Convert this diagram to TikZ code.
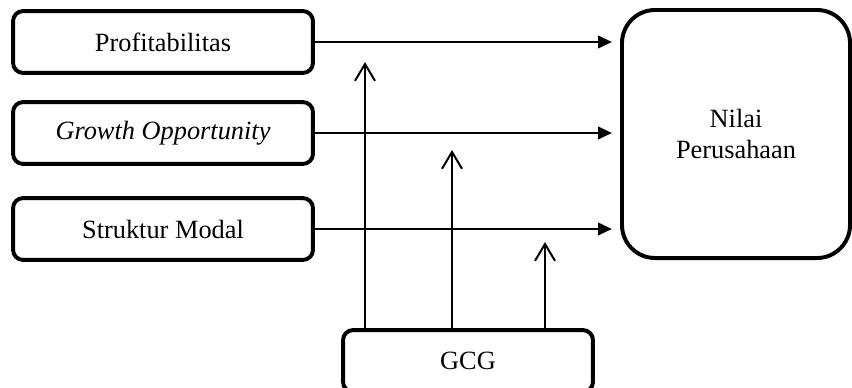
\documentclass[tikz,border=0pt]{standalone}
\usepackage{fontspec}
\setmainfont{Liberation Serif}
\usetikzlibrary{arrows.meta}

\begin{document}
\begin{tikzpicture}[x=0.016cm, y=-0.016cm]
	\tikzstyle {varbox} = [draw, line width = 1.8pt, rounded corners = 0.16cm, minimum width = 4.8cm, minimum height = 0.99cm, inner sep = 0pt, font = \fontsize{12}{13.8}\selectfont];
	\useasboundingbox (0, 0) rectangle (852, 387);
	\node[varbox] (prof) at (163, 42) {Profitabilitas};
	\node[varbox] (growth) at (163, 133) {\textit{Growth Opportunity}};
	\node[varbox] (struktur) at (163, 229) {Struktur Modal};
	\node[varbox, rounded corners = 0.53cm, minimum width = 3.65cm, minimum height = 3.97cm, align = center] (nilai) at (736, 134) {Nilai\\Perusahaan};
	\node[varbox, minimum width = 4cm] (gcg) at (468, 361) {GCG};
	\foreach \varname in {prof, growth, struktur} {
			\draw[line width = 0.9pt, -{Triangle[length = 0.22cm, width = 0.2cm]}, shorten > = 0.13cm] (\varname.east) -- (\varname.east -| nilai.west);
		}
	\foreach \tipname/\tipx/\tipy in {t1/365/62, t2/452/150, t3/545/242} {
			\coordinate (\tipname) at (\tipx, \tipy);
			\draw[line width = 0.9pt, -{Straight Barb[length = 0.27cm, width = 0.32cm]}] (gcg.north -| \tipname) -- (\tipname);
		}
\end{tikzpicture}
\end{document}
